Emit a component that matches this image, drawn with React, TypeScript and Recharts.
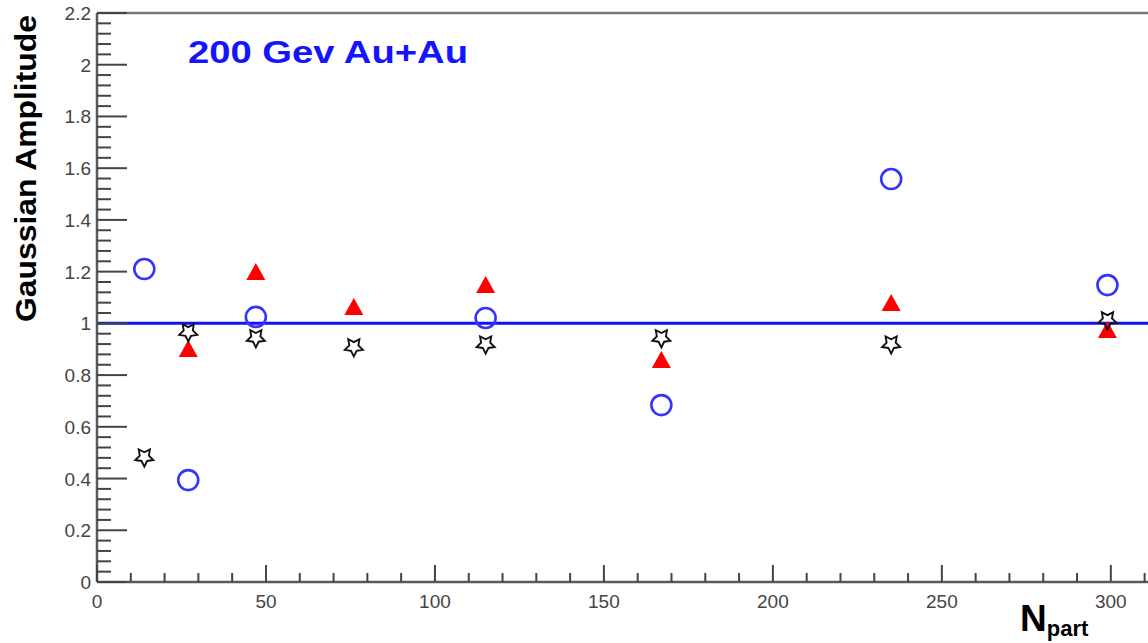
import React from 'react';
import { ScatterChart, Scatter, XAxis, YAxis, ReferenceLine, Label } from 'recharts';

// N_part bins (x) and the three amplitude series
const nPart = [14, 27, 47, 76, 115, 167, 235, 299];
const circleAmp = [1.21, 0.394, 1.025, null, 1.021, 0.684, 1.558, 1.148];
const triangleAmp = [null, 0.901, 1.199, 1.063, 1.148, 0.858, 1.079, 0.974];
const starAmp = [0.483, 0.967, 0.944, 0.909, 0.92, 0.944, 0.92, 1.013];

const xMajorTicks = [0, 50, 100, 150, 200, 250, 300];
const yMajorTicks = [0, 0.2, 0.4, 0.6, 0.8, 1, 1.2, 1.4, 1.6, 1.8, 2, 2.2];
const xMinorStep = 10;
const yMinorStep = 0.04;

const xTicks = Array.from({ length: 32 }, (_, i) => i * xMinorStep);
const yTicks = Array.from({ length: 56 }, (_, i) => Math.round(i * yMinorStep * 100) / 100);

const FONT = '"Liberation Sans", Arial, Helvetica, sans-serif';
const TICK_COLOR = '#444';

const toPoints = (vals: (number | null)[]) =>
  nPart
    .map((x, i) => ({ x, y: vals[i] }))
    .filter((p) => p.y !== null);

const circleData = toPoints(circleAmp);
const triangleData = toPoints(triangleAmp);
const starData = toPoints(starAmp);

const isXMajor = (v: number) => xMajorTicks.includes(v);
const isYMajor = (v: number) => yMajorTicks.some((m) => Math.abs(m - v) < 1e-6);

function XTick(props: any) {
  const { x, y, payload } = props;
  const v = payload.value;
  const major = isXMajor(v);
  return (
    <g>
      <line x1={x} x2={x} y1={y} y2={y - (major ? 17 : 9)} stroke={TICK_COLOR} strokeWidth={2} />
      {major && (
        <text x={x} y={y + 26} textAnchor="middle" fontSize={19} fill={TICK_COLOR} fontFamily={FONT}>
          {v}
        </text>
      )}
    </g>
  );
}

function YTick(props: any) {
  const { x, y, payload } = props;
  const v = payload.value;
  const major = isYMajor(v);
  return (
    <g>
      <line x1={x} x2={x + (major ? 30 : 14)} y1={y} y2={y} stroke={TICK_COLOR} strokeWidth={2} />
      {major && (
        <text x={x - 6} y={y + 7} textAnchor="end" fontSize={19} fill={TICK_COLOR} fontFamily={FONT}>
          {Number(v.toFixed(1)).toString()}
        </text>
      )}
    </g>
  );
}

function OpenCircle(props: any) {
  const { cx, cy } = props;
  return <circle cx={cx} cy={cy} r={10} fill="none" stroke="#3434ff" strokeWidth={2.6} />;
}

function RedTriangle(props: any) {
  const { cx, cy } = props;
  return (
    <polygon
      points={`${cx},${cy - 9} ${cx - 9.5},${cy + 8} ${cx + 9.5},${cy + 8}`}
      fill="#ff0000"
    />
  );
}

function OpenStar(props: any) {
  const { cx, cy } = props;
  const pts: string[] = [];
  for (let i = 0; i < 10; i++) {
    const r = i % 2 === 0 ? 9.5 : 4.8;
    const a = Math.PI / 2 + (i * Math.PI) / 5; // point down
    pts.push(`${cx + r * Math.cos(a)},${cy + r * Math.sin(a)}`);
  }
  return <polygon points={pts.join(' ')} fill="none" stroke="#111" strokeWidth={1.9} />;
}

function YTitle(props: any) {
  const vb = props.viewBox || { x: 0, y: 13 };
  const cx = vb.x + 36;
  const top = vb.y + 2;
  return (
    <text
      transform={`translate(${cx},${top}) rotate(-90)`}
      textAnchor="end"
      fontSize={29}
      fontWeight="bold"
      fill="#000"
      fontFamily={FONT}
      textLength={307}
      lengthAdjust="spacingAndGlyphs"
    >
      Gaussian Amplitude
    </text>
  );
}

function XTitle(props: any) {
  const vb = props.viewBox || { x: 97, y: 582, width: 1051 };
  const x = vb.x + vb.width - 128;
  const y = vb.y + 49;
  return (
    <text x={x} y={y} fontWeight="bold" fill="#000" fontFamily={FONT}>
      <tspan fontSize={37}>N</tspan>
      <tspan fontSize={22} dy={5}>part</tspan>
    </text>
  );
}

function PlotTitle(props: any) {
  const vb = props.viewBox || { x: 97, y: 13 };
  return (
    <text
      x={vb.x + 91}
      y={vb.y + 50}
      fontSize={31}
      fontWeight="bold"
      fill="#1414ff"
      fontFamily={FONT}
      textLength={280}
      lengthAdjust="spacingAndGlyphs"
    >
      200 Gev Au+Au
    </text>
  );
}

export default function App() {
  return (
    <div style={{ position: 'absolute', left: 0, top: 0, width: 1148, height: 643, background: '#fff' }}>
      <ScatterChart width={1148} height={643} margin={{ top: 13, right: 0, left: 0, bottom: 0 }}>
        <XAxis
          type="number"
          dataKey="x"
          domain={[0, 311]}
          ticks={xTicks}
          interval={0}
          tick={<XTick />}
          tickSize={0}
          tickMargin={0}
          tickLine={false}
          axisLine={{ stroke: '#5a5a5a', strokeWidth: 2.5 }}
          height={61}
          allowDataOverflow
        >
          <Label content={<XTitle />} />
        </XAxis>
        <YAxis
          type="number"
          dataKey="y"
          domain={[0, 2.2]}
          ticks={yTicks}
          interval={0}
          tick={<YTick />}
          tickSize={0}
          tickMargin={0}
          tickLine={false}
          axisLine={{ stroke: '#5a5a5a', strokeWidth: 2.5 }}
          width={97}
          allowDataOverflow
        >
          <Label content={<YTitle />} />
        </YAxis>
        <ReferenceLine y={2.2} stroke="#777" strokeWidth={2.5} label={<PlotTitle />} />
        <ReferenceLine y={1} stroke="#1010ff" strokeWidth={3} />
        <Scatter data={circleData} shape={<OpenCircle />} isAnimationActive={false} />
        <Scatter data={triangleData} shape={<RedTriangle />} isAnimationActive={false} />
        <Scatter data={starData} shape={<OpenStar />} isAnimationActive={false} />
      </ScatterChart>
    </div>
  );
}
